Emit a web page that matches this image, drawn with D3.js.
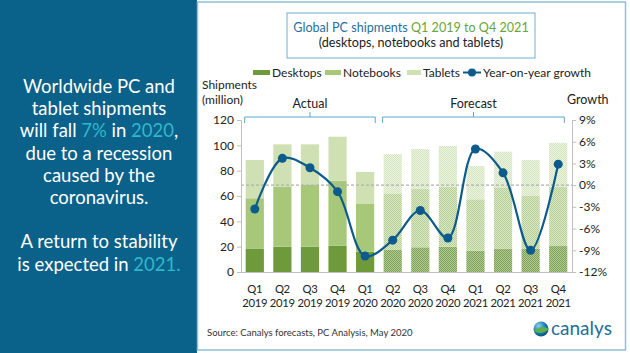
<!DOCTYPE html>
<html>
<head>
<meta charset="utf-8">
<script src="https://cdn.jsdelivr.net/npm/d3@7"></script>
<style>
  body { margin: 0; background: #fff; }
  svg { display: block; font-family: "Open Sans", "DejaVu Sans", sans-serif; }
</style>
</head>
<body>
<svg id="chart" width="630" height="353"></svg>
<script>
// quarters and values
var quarters = ["Q1 2019","Q2 2019","Q3 2019","Q4 2019","Q1 2020","Q2 2020","Q3 2020","Q4 2020","Q1 2021","Q2 2021","Q3 2021","Q4 2021"];
var desktops  = [18.2, 20.0, 20.0, 20.8, 16.0, 17.4, 19.5, 20.0, 16.7, 18.2, 18.2, 20.5];
var notebooks = [40.0, 47.4, 48.7, 51.2, 37.7, 44.6, 46.0, 47.3, 40.7, 48.7, 41.8, 46.8];
var tablets   = [30.2, 33.4, 32.1, 34.8, 25.3, 31.0, 31.5, 32.2, 26.3, 28.1, 28.4, 34.7];
var growth    = [-3.3, 3.7, 2.4, -0.9, -9.8, -7.6, -3.5, -7.3, 5.0, 1.7, -9.0, 2.9];
var nActual = 5; // Q1 2019 .. Q1 2020 are actuals, the rest forecast
var leftTicks = [0, 20, 40, 60, 80, 100, 120];
var rightTicks = [-12, -9, -6, -3, 0, 3, 6, 9];

var svg = d3.select("#chart");

// left blue panel
svg.append("rect").attr("x",0).attr("y",0).attr("width",197).attr("height",353).attr("fill","#0a6189");
var blurb = [
  [["Worldwide PC and",0]],
  [["tablet shipments",0]],
  [["will fall ",0],["7%",1],[" in ",0],["2020",1],[",",0]],
  [["due to a recession",0]],
  [["caused by the",0]],
  [["coronavirus.",0]],
  [],
  [["A return to stability",0]],
  [["is expected in ",0],["2021.",1]]
];
blurb.forEach(function(line, i){
  if(!line.length) return;
  var t = svg.append("text").attr("x",99).attr("y",93 + i*22.2).attr("text-anchor","middle")
    .attr("font-family","Lato, 'Open Sans', sans-serif").attr("font-size",18.5).attr("fill","#fff");
  line.forEach(function(p){ t.append("tspan").text(p[0]).attr("fill", p[1] ? "#2fb8cc" : "#fff"); });
});

// right white panel border
svg.append("rect").attr("x",197.5).attr("y",2).attr("width",428).attr("height",348)
  .attr("fill","#fff").attr("stroke","#8fc0d6").attr("stroke-width",1.5);

// title box
svg.append("rect").attr("x",287).attr("y",13).attr("width",248).attr("height",45)
  .attr("fill","#fff").attr("stroke","#6fb0cf").attr("stroke-width",1);
var t1 = svg.append("text").attr("x",411).attr("y",32).attr("text-anchor","middle").attr("font-size",12.6)
  .attr("font-family","Lato, sans-serif");
t1.append("tspan").text("Global PC shipments ").attr("fill","#1f6f9e");
t1.append("tspan").text("Q1 2019 to Q4 2021").attr("fill","#6aa43a");
svg.append("text").attr("x",411).attr("y",47).attr("text-anchor","middle").attr("font-size",12.6)
  .attr("font-family","Lato, sans-serif").attr("fill","#222").text("(desktops, notebooks and tablets)");

// patterns for forecast bars
var defs = svg.append("defs");
var colsActual = ["#6e9a3b", "#a7c878", "#cfe0b2"];
var colsFore = [["#7ea251","#b2c99a"], ["#b4cf91","#dbe8c9"], ["#d4e4bd","#eef4e4"]];
colsFore.forEach(function(c, i){
  var p = defs.append("pattern").attr("id","pf"+i).attr("width",2).attr("height",2).attr("patternUnits","userSpaceOnUse");
  p.append("rect").attr("width",2).attr("height",2).attr("fill",c[1]);
  p.append("rect").attr("width",1).attr("height",1).attr("fill",c[0]);
  p.append("rect").attr("x",1).attr("y",1).attr("width",1).attr("height",1).attr("fill",c[0]);
});

// scales
var x = d3.scaleBand().domain(quarters).range([241, 572]).paddingInner(0.34).paddingOuter(0.17);
var y = d3.scaleLinear().domain([0, 120]).range([272, 120]);
var yr = d3.scaleLinear().domain([-12, 9]).range([272, 120]);

// stacked bars
var rows = quarters.map(function(q, i){ return {q: q, i: i, desktops: desktops[i], notebooks: notebooks[i], tablets: tablets[i]}; });
var stack = d3.stack().keys(["desktops","notebooks","tablets"])(rows);
stack.forEach(function(layer, k){
  svg.append("g").selectAll("rect").data(layer).enter().append("rect")
    .attr("x", function(d){ return x(d.data.q); })
    .attr("width", x.bandwidth())
    .attr("y", function(d){ return y(d[1]); })
    .attr("height", function(d){ return y(d[0]) - y(d[1]); })
    .attr("fill", function(d){ return d.data.i < nActual ? colsActual[k] : "url(#pf"+k+")"; });
});

// zero growth dashed line
svg.append("line").attr("x1",241).attr("x2",572).attr("y1",yr(0)).attr("y2",yr(0))
  .attr("stroke","#b0b0b0").attr("stroke-width",1.2).attr("stroke-dasharray","3,2");

// axes
var axL = svg.append("g").attr("transform","translate(241,0)")
  .call(d3.axisLeft(y).tickValues(leftTicks).tickSize(4).tickPadding(3));
var axR = svg.append("g").attr("transform","translate(572,0)")
  .call(d3.axisRight(yr).tickValues(rightTicks).tickSize(4).tickPadding(3).tickFormat(function(d){ return d + "%"; }));
[axL, axR].forEach(function(a){
  a.selectAll("path,line").attr("stroke","#bfbfbf");
  a.selectAll("text").attr("font-size",12).attr("fill","#222").attr("font-family","Lato, sans-serif");
});
svg.append("line").attr("x1",241).attr("x2",572).attr("y1",272.5).attr("y2",272.5).attr("stroke","#bfbfbf");

// x labels
var xl = svg.append("g").selectAll("text").data(quarters).enter().append("text")
  .attr("text-anchor","middle").attr("font-size",11.3).attr("letter-spacing",-0.3).attr("fill","#222").attr("font-family","Lato, sans-serif")
  .attr("x", function(d){ return x(d) + x.bandwidth()/2; });
xl.append("tspan").attr("y",293).attr("x", function(d){ return x(d) + x.bandwidth()/2; }).text(function(d){ return d.split(" ")[0]; });
xl.append("tspan").attr("y",307).attr("x", function(d){ return x(d) + x.bandwidth()/2; }).text(function(d){ return d.split(" ")[1]; });

// growth line
var line = d3.line().curve(d3.curveCatmullRom.alpha(0.5))
  .x(function(d, i){ return x(quarters[i]) + x.bandwidth()/2; })
  .y(function(d){ return yr(d); });
svg.append("path").datum(growth).attr("d", line).attr("fill","none").attr("stroke","#0c5b8c").attr("stroke-width",2.2);
svg.append("g").selectAll("circle").data(growth).enter().append("circle")
  .attr("cx", function(d, i){ return x(quarters[i]) + x.bandwidth()/2; })
  .attr("cy", function(d){ return yr(d); })
  .attr("r", 4.5).attr("fill","#0c5b8c");

// brackets
function bracket(x0, x1, label){
  var xm = (x0 + x1) / 2;
  svg.append("path").attr("d", "M"+x0+",123 V117 H"+xm+" V112 M"+xm+",117 H"+x1+" V123")
    .attr("fill","none").attr("stroke","#5aa7cc").attr("stroke-width",1);
  svg.append("text").attr("x",xm).attr("y",108).attr("text-anchor","middle").attr("font-size",12.5)
    .attr("font-family","Lato, sans-serif").attr("fill","#222").text(label);
}
bracket(x(quarters[0]) - 1, x(quarters[nActual-1]) + x.bandwidth() + 1, "Actual");
bracket(x(quarters[nActual]) - 1, x(quarters[quarters.length-1]) + x.bandwidth() - 3, "Forecast");

// axis titles
svg.append("text").attr("x",202).attr("y",89).attr("font-size",12).attr("font-family","Lato, sans-serif").attr("fill","#222").text("Shipments");
svg.append("text").attr("x",202).attr("y",104).attr("font-size",12).attr("font-family","Lato, sans-serif").attr("fill","#222").text("(million)");
svg.append("text").attr("x",567).attr("y",104).attr("font-size",12.5).attr("font-family","Lato, sans-serif").attr("fill","#222").text("Growth");

// legend
var lg = svg.append("g").attr("font-size",12).attr("font-family","Lato, sans-serif").attr("fill","#222");
var legendItems = [["Desktops", colsActual[0], 253, 17], ["Notebooks", colsActual[1], 325, 16], ["Tablets", colsActual[2], 407, 14]];
legendItems.forEach(function(it){
  lg.append("rect").attr("x",it[2]).attr("y",70).attr("width",it[3]).attr("height",5).attr("fill",it[1]);
  lg.append("text").attr("x",it[2] + it[3] + 2).attr("y",77).text(it[0]);
});
lg.append("line").attr("x1",463).attr("x2",481).attr("y1",72.5).attr("y2",72.5).attr("stroke","#0c5b8c").attr("stroke-width",2);
lg.append("circle").attr("cx",472).attr("cy",72.5).attr("r",4).attr("fill","#0c5b8c");
lg.append("text").attr("x",483).attr("y",77).text("Year-on-year growth");

// source
svg.append("text").attr("x",207).attr("y",336).attr("font-size",9.5).attr("font-family","Lato, sans-serif")
  .attr("fill","#333").text("Source:  Canalys forecasts, PC Analysis, May 2020");

// logo
var grad = defs.append("radialGradient").attr("id","globe").attr("cx","35%").attr("cy","30%").attr("r","75%");
grad.append("stop").attr("offset","0%").attr("stop-color","#8fd0f0");
grad.append("stop").attr("offset","55%").attr("stop-color","#1c7fb8");
grad.append("stop").attr("offset","100%").attr("stop-color","#0b4f80");
svg.append("circle").attr("cx",541).attr("cy",329).attr("r",7.5).attr("fill","url(#globe)");
svg.append("path").attr("d","M534,331 Q541,324 549,329 Q542,336 534,331 Z").attr("fill","#5bb24a");
svg.append("text").attr("x",551).attr("y",335).attr("font-size",19).attr("font-family","Lato, sans-serif")
  .attr("fill","#1f6e9c").text("canalys");
</script>
</body>
</html>
